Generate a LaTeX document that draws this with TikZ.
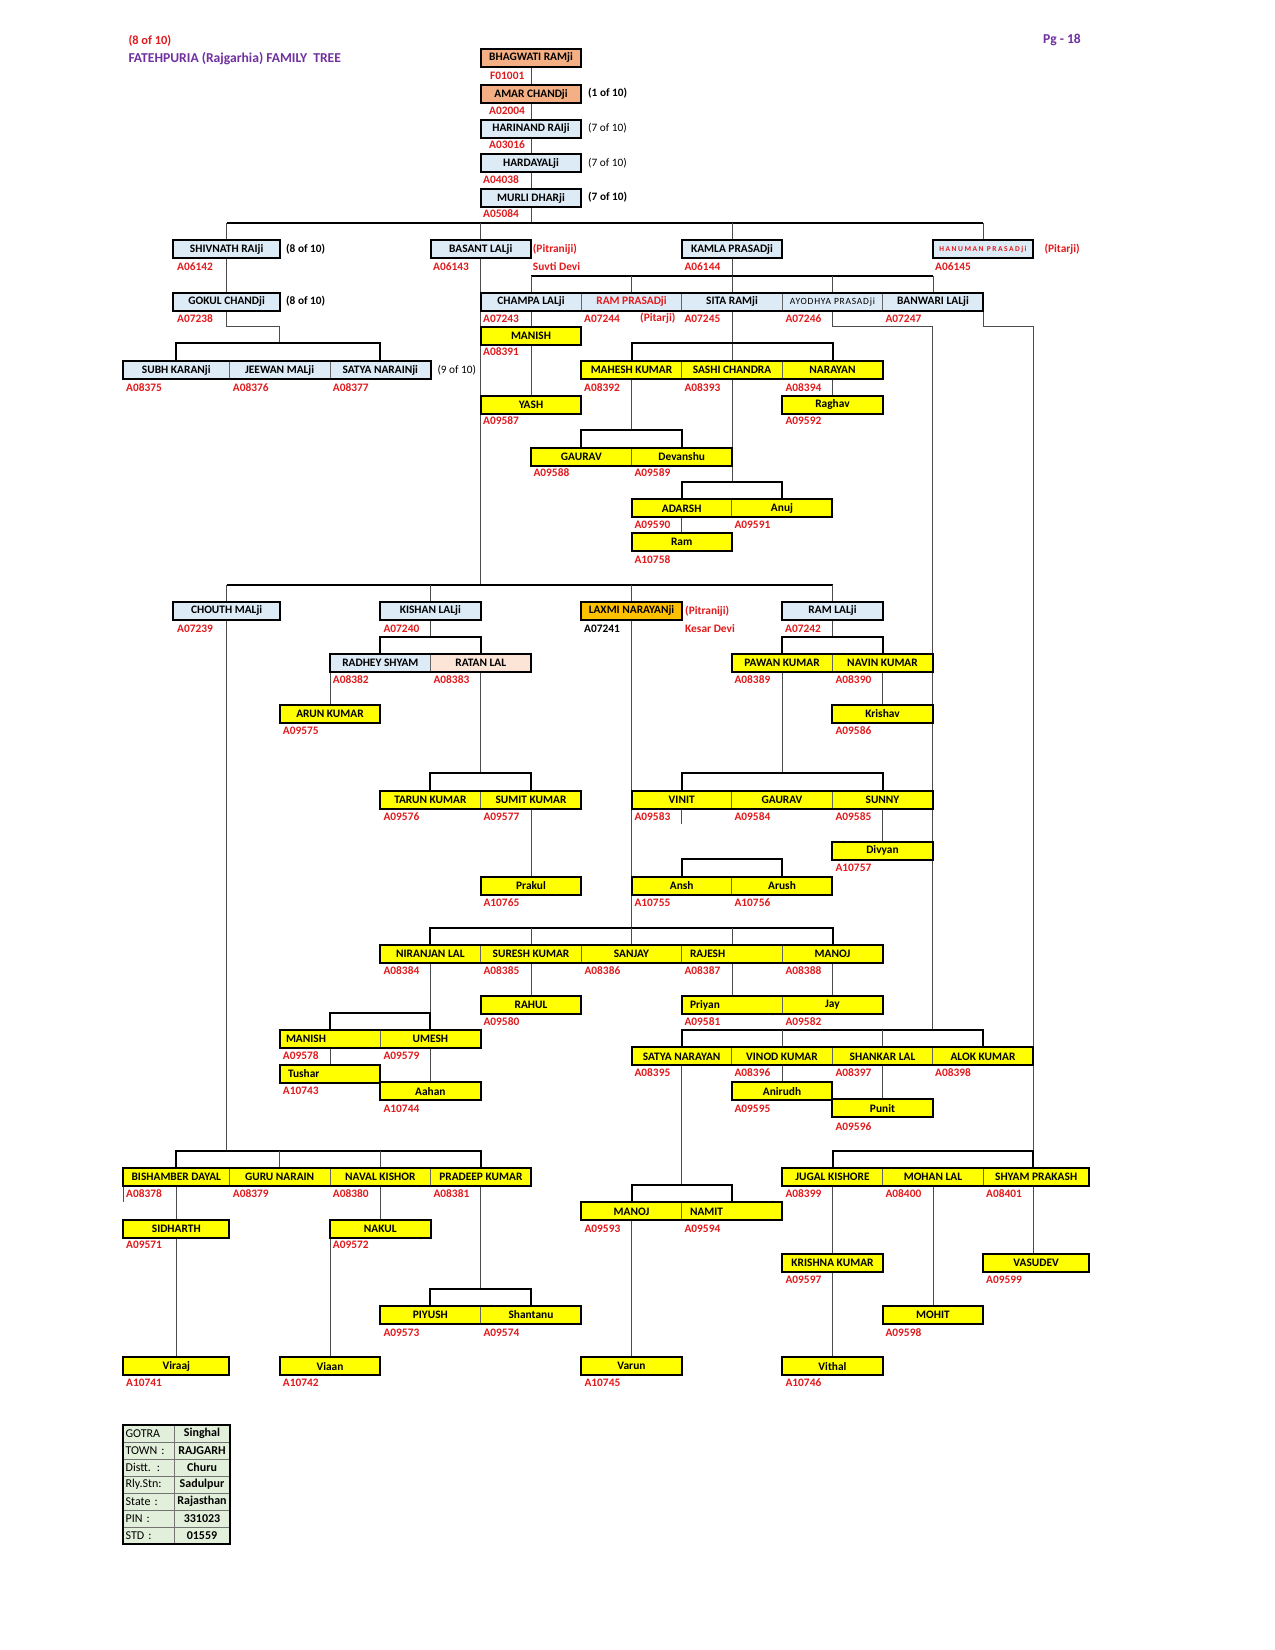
\documentclass[tikz,border=0pt]{standalone}
\usepackage{fontspec}
\setmainfont{Carlito}
\usetikzlibrary{calc}
\definecolor{salmon}{HTML}{F4B084}
\definecolor{lblue}{HTML}{DDEBF7}
\definecolor{peach}{HTML}{FCE4D6}
\definecolor{orng}{HTML}{FFC000}
\definecolor{yel}{HTML}{FFFF00}
\definecolor{lgreen}{HTML}{E2EFDA}
\definecolor{purp}{HTML}{7030A0}
\definecolor{redt}{HTML}{E31A1C}
\pgfdeclarelayer{back}
\pgfdeclarelayer{bg}
\pgfsetlayers{back,bg,main}
\tikzset{
  box/.style={rectangle, draw=black!60, line width=0.7pt, inner sep=0pt, outer sep=0pt,
    minimum height=18pt, font=\bfseries\fontsize{11.4}{12}\selectfont},
  outer/.style={draw=black, line width=2pt},
  conn/.style={draw=black!70, line width=0.9pt},
  brk/.style={draw=black, line width=2pt},
  lab/.style={anchor=west, inner sep=0pt, text=redt, font=\bfseries\fontsize{11.4}{12}\selectfont},
  note/.style={anchor=west, inner sep=0pt, font=\bfseries\fontsize{11.3}{12}\selectfont},
  notel/.style={anchor=west, inner sep=0pt, font=\fontsize{11.3}{12}\selectfont},
  tcell/.style={rectangle, draw=black!55, line width=0.7pt, fill=lgreen, inner sep=0pt, outer sep=0pt,
    minimum height=17pt, font=\fontsize{12}{13}\selectfont},
  lft/.style={text width=84pt, align=left, inner xsep=8pt},
}
\newcommand{\bx}[7][]{\node[box,fill=#6,minimum width={(#4-#3)*1pt},#1] (#2) at ({(#3+#4)/2},{#5+9}) {#7};}
\newcommand{\lb}[3]{\node[lab] (#1) at (#2,#3) {#1};}
\begin{document}
\begin{tikzpicture}[x=1pt,y=-1pt]
\useasboundingbox (0,0) rectangle (1275,1650);
\begin{pgfonlayer}{back}
\fill[white] (0,0) rectangle (1275,1650);
\end{pgfonlayer}

% header
\node[anchor=west, inner sep=0pt, text=redt, font=\bfseries\fontsize{12.4}{13}\selectfont] (hdA) at (128.3,40.7) {(8 of 10)};
\node[anchor=west, inner sep=0pt, text=purp, font=\bfseries\fontsize{13.6}{14}\selectfont] (hdB) at (128.3,58.3) {FATEHPURIA (Rajgarhia) FAMILY\ \ TREE};
\node[anchor=east, inner sep=0pt, text=purp, font=\bfseries\fontsize{13.6}{14}\selectfont] (hdC) at (1081,40) {Pg - 18};

% ---------- boxes ----------
\bx{bhag}{480.7}{581.3}{48.5}{salmon}{BHAGWATI RAMji}
\bx{amar}{480.7}{581.3}{85}{salmon}{AMAR CHANDji}
\bx{hari}{480.7}{581.3}{119.5}{lblue}{HARINAND RAIji}
\bx{hard}{480.7}{581.3}{154}{lblue}{HARDAYALji}
\bx{murli}{480.7}{581.3}{189}{lblue}{MURLI DHARji}

\bx{shiv}{173.3}{280}{240}{lblue}{SHIVNATH RAIji}
\bx{basant}{430.5}{531}{240}{lblue}{BASANT LALji}
\bx{kamla}{681.7}{782.3}{240}{lblue}{KAMLA PRASADji}
\bx{hanu}{932.7}{1033.3}{240}{lblue}{{\fontsize{7.5}{8}\selectfont\addfontfeature{LetterSpace=20}\color{redt}HANUMAN PRASADji}}

\bx{gokul}{173.3}{280}{292.7}{lblue}{GOKUL CHANDji}
\bx{champa}{480.7}{581.3}{292.7}{lblue}{CHAMPA LALji}
\bx{ramp}{581.3}{681.7}{292.7}{lblue}{\color{redt}RAM PRASADji}
\bx{sita}{681.7}{782.3}{292.7}{lblue}{SITA RAMji}
\bx{ayod}{782.3}{882.7}{292.7}{lblue}{{\mdseries\fontsize{9.5}{10}\selectfont\addfontfeature{LetterSpace=8}AYODHYA PRASADji}}
\bx{banw}{882.7}{983.3}{292.7}{lblue}{BANWARI LALji}

\bx{manishA}{480.7}{581.3}{326.7}{yel}{MANISH}

\bx{subh}{123.3}{229.3}{361}{lblue}{SUBH KARANji}
\bx{jeew}{229.3}{330}{361}{lblue}{JEEWAN MALji}
\bx{satyaA}{330}{430.7}{361}{lblue}{SATYA NARAINji}
\bx{mahesh}{581.3}{681.7}{361}{yel}{MAHESH KUMAR}
\bx{sashi}{681.7}{782.3}{361}{yel}{SASHI CHANDRA}
\bx{narayan}{782.3}{882.7}{361}{yel}{NARAYAN}

\bx{yash}{480.7}{581.3}{395.7}{yel}{YASH}
\bx{raghav}{782.3}{882.7}{395.7}{yel}{Raghav}

\bx{gauravA}{531}{631.7}{447.7}{yel}{GAURAV}
\bx{devansh}{631.7}{731.7}{447.7}{yel}{Devanshu}

\bx{adarsh}{631.7}{731.7}{499.3}{yel}{ADARSH}
\bx{anuj}{731.7}{832.3}{499.3}{yel}{Anuj}

\bx{ram}{631.7}{731.7}{533.3}{yel}{Ram}

\bx{chouth}{173.3}{280}{601.7}{lblue}{CHOUTH MALji}
\bx{kishan}{380}{480.7}{601.7}{lblue}{KISHAN LALji}
\bx{laxmi}{581.3}{681.7}{601.7}{orng}{LAXMI NARAYANji}
\bx{raml}{782.3}{882.7}{601.7}{lblue}{RAM LALji}

\bx{radhey}{330}{430.7}{654}{lblue}{RADHEY SHYAM}
\bx{ratan}{430.7}{531}{654}{peach}{RATAN LAL}
\bx{pawan}{731.7}{832.3}{654}{yel}{PAWAN KUMAR}
\bx{navin}{832.3}{932.7}{654}{yel}{NAVIN KUMAR}

\bx{arun}{280}{380}{705}{yel}{ARUN KUMAR}
\bx{krishav}{832.3}{932.7}{705}{yel}{Krishav}

\bx{tarun}{380}{480.7}{790.7}{yel}{TARUN KUMAR}
\bx{sumit}{480.7}{581.3}{790.7}{yel}{SUMIT KUMAR}
\bx{vinit}{631.7}{731.7}{790.7}{yel}{VINIT}
\bx{gauravB}{731.7}{832.3}{790.7}{yel}{GAURAV}
\bx{sunny}{832.3}{932.7}{790.7}{yel}{SUNNY}

\bx{divyan}{832.3}{932.7}{841.7}{yel}{Divyan}

\bx{prakul}{480.7}{581.3}{876.7}{yel}{Prakul}
\bx{ansh}{631.7}{731.7}{876.7}{yel}{Ansh}
\bx{arush}{731.7}{832.3}{876.7}{yel}{Arush}

\bx{niranjan}{380}{480.7}{945}{yel}{NIRANJAN LAL}
\bx{suresh}{480.7}{581.3}{945}{yel}{SURESH KUMAR}
\bx{sanjay}{581.3}{681.7}{945}{yel}{SANJAY}
\bx[lft]{rajesh}{681.7}{782.3}{945}{yel}{RAJESH}
\bx{manojA}{782.3}{882.7}{945}{yel}{MANOJ}

\bx{rahul}{480.7}{581.3}{996}{yel}{RAHUL}
\bx[lft]{priyan}{681.7}{782.3}{996}{yel}{Priyan}
\bx{jay}{782.3}{882.7}{996}{yel}{Jay}

\bx[lft,inner xsep=6pt,text width=88pt]{manishB}{280}{380}{1030}{yel}{MANISH}
\bx{umesh}{380}{480.7}{1030}{yel}{UMESH}

\bx{satyan}{631.7}{731.7}{1047.3}{yel}{SATYA NARAYAN}
\bx{vinod}{731.7}{832.3}{1047.3}{yel}{VINOD KUMAR}
\bx{shankar}{832.3}{932.7}{1047.3}{yel}{SHANKAR LAL}
\bx{alok}{932.7}{1033.3}{1047.3}{yel}{ALOK KUMAR}

\bx[lft]{tushar}{280}{380}{1065}{yel}{Tushar}
\bx{aahan}{380}{480.7}{1082.3}{yel}{Aahan}
\bx{anirudh}{731.7}{832.3}{1082.3}{yel}{Anirudh}
\bx{punit}{832.3}{932.7}{1099.3}{yel}{Punit}

\bx{bisham}{123.3}{229.3}{1167.7}{yel}{BISHAMBER DAYAL}
\bx{guru}{229.3}{330}{1167.7}{yel}{GURU NARAIN}
\bx{naval}{330}{430.7}{1167.7}{yel}{NAVAL KISHOR}
\bx{pradeep}{430.7}{531}{1167.7}{yel}{PRADEEP KUMAR}
\bx{jugal}{782.3}{882.7}{1167.7}{yel}{JUGAL KISHORE}
\bx{mohan}{882.7}{983.3}{1167.7}{yel}{MOHAN LAL}
\bx{shyam}{983.3}{1089}{1167.7}{yel}{SHYAM PRAKASH}

\bx{manojB}{581.3}{681.7}{1202.3}{yel}{MANOJ}
\bx[lft]{namit}{681.7}{782.3}{1202.3}{yel}{NAMIT}

\bx{sidharth}{123.3}{229.3}{1220}{yel}{SIDHARTH}
\bx{nakul}{330}{430.7}{1220}{yel}{NAKUL}

\bx{krishna}{782.3}{882.7}{1254}{yel}{KRISHNA KUMAR}
\bx{vasudev}{983.3}{1089}{1254}{yel}{VASUDEV}

\bx{piyush}{380}{480.7}{1306}{yel}{PIYUSH}
\bx{shantanu}{480.7}{581.3}{1306}{yel}{Shantanu}
\bx{mohit}{882.7}{983.3}{1306}{yel}{MOHIT}

\bx{viraaj}{123.3}{229.3}{1357.3}{yel}{Viraaj}
\bx{viaan}{280}{380}{1357.3}{yel}{Viaan}
\bx{varun}{581.3}{681.7}{1357.3}{yel}{Varun}
\bx{vithal}{782.3}{882.7}{1357.3}{yel}{Vithal}

% thick outlines of groups
\foreach \a/\b in {bhag/bhag, amar/amar, hari/hari, hard/hard, murli/murli, shiv/shiv, basant/basant,
  kamla/kamla, hanu/hanu, gokul/gokul, champa/banw, manishA/manishA, subh/satyaA, mahesh/narayan,
  yash/yash, raghav/raghav, gauravA/devansh, adarsh/anuj, ram/ram, chouth/chouth, kishan/kishan,
  laxmi/laxmi, raml/raml, radhey/ratan, pawan/navin, arun/arun, krishav/krishav, tarun/sumit,
  vinit/sunny, divyan/divyan, prakul/prakul, ansh/arush, niranjan/manojA, rahul/rahul, priyan/jay,
  manishB/umesh, satyan/alok, tushar/tushar, aahan/aahan, anirudh/anirudh, punit/punit,
  bisham/pradeep, jugal/shyam, manojB/namit, sidharth/sidharth, nakul/nakul, krishna/krishna,
  vasudev/vasudev, piyush/shantanu, mohit/mohit, viraaj/viraaj, viaan/viaan, varun/varun, vithal/vithal}
  \draw[outer] (\a.north west) rectangle (\b.south east);

% ---------- side notes ----------
\node[note] (nA) at (588,93.5) {(1 of 10)};
\node[notel] (nB) at (588,128.3) {(7 of 10)};
\node[notel] (nC) at (588,162.8) {(7 of 10)};
\node[note] (nD) at (588,197.5) {(7 of 10)};
\node[note] (nE) at (286,249) {(8 of 10)};
\node[note] (nF) at (286,301.3) {(8 of 10)};
\node[notel] (nG) at (437.3,370) {(9 of 10)};
\node[lab] (pitA) at (532.7,249) {(Pitraniji)};
\node[lab] (suvti) at (532.7,266.3) {Suvti Devi};
\node[lab] (pitB) at (1044.3,249) {(Pitarji)};
\node[lab] (pitC) at (640,318.3) {(Pitarji)};
\node[lab] (pitD) at (685,611) {(Pitraniji)};
\node[lab] (kesar) at (685,628.3) {Kesar Devi};

% ---------- id labels ----------
\lb{F01001}{490}{76}
\lb{A02004}{489}{111}
\lb{A03016}{489}{145}
\lb{A04038}{483}{180}
\lb{A05084}{483}{213.3}
\lb{A06142}{177}{266.3}
\lb{A06143}{433}{266.3}
\lb{A06144}{684.3}{266.3}
\lb{A06145}{935}{266.3}
\lb{A07238}{177}{318.3}
\lb{A07243}{483}{318.3}
\lb{A07244}{584}{318.3}
\lb{A07245}{684.3}{318.3}
\lb{A07246}{785.3}{318.3}
\lb{A07247}{885.3}{318.3}
\lb{A08391}{483}{351.7}
\lb{A08375}{126}{387.3}
\lb{A08376}{232.7}{387.3}
\lb{A08377}{332.7}{387.3}
\lb{A08392}{584}{387.3}
\lb{A08393}{684.3}{387.3}
\lb{A08394}{785.3}{387.3}
\lb{A09587}{483}{421}
\lb{A09592}{785.3}{421}
\lb{A09588}{533.3}{472.7}
\lb{A09589}{634.3}{472.7}
\lb{A09590}{634.3}{525}
\lb{A09591}{734.3}{525}
\lb{A10758}{634.3}{560}
\lb{A07239}{177}{628.3}
\lb{A07240}{383.3}{628.3}
\node[lab,text=black] (A07241) at (584,628.3) {A07241};
\lb{A07242}{785}{628.3}
\lb{A08382}{332.7}{680}
\lb{A08383}{433.3}{680}
\lb{A08389}{734.3}{680}
\lb{A08390}{835.3}{680}
\lb{A09575}{282.7}{731}
\lb{A09586}{835.3}{731}
\lb{A09576}{383.3}{816.7}
\lb{A09577}{483.3}{816.7}
\lb{A09583}{634.3}{816.7}
\lb{A09584}{734.3}{816.7}
\lb{A09585}{835.3}{816.7}
\lb{A10757}{835.3}{867.3}
\lb{A10765}{483.3}{902.3}
\lb{A10755}{634.3}{902.3}
\lb{A10756}{734.3}{902.3}
\lb{A08384}{383.3}{971}
\lb{A08385}{483.3}{971}
\lb{A08386}{584.3}{971}
\lb{A08387}{684.3}{971}
\lb{A08388}{785.3}{971}
\lb{A09580}{483.3}{1021.7}
\lb{A09581}{684.3}{1021.7}
\lb{A09582}{785.3}{1021.7}
\lb{A09578}{282.7}{1056}
\lb{A09579}{383.3}{1056}
\lb{A08395}{634.3}{1072.7}
\lb{A08396}{734.3}{1072.7}
\lb{A08397}{835.3}{1072.7}
\lb{A08398}{935}{1072.7}
\lb{A10743}{282.7}{1091}
\lb{A10744}{383.3}{1108.3}
\lb{A09595}{734.3}{1108.3}
\lb{A09596}{835.3}{1126.7}
\lb{A08378}{126}{1194}
\lb{A08379}{232.7}{1194}
\lb{A08380}{332.7}{1194}
\lb{A08381}{433.3}{1194}
\lb{A08399}{785.3}{1194}
\lb{A08400}{885.3}{1194}
\lb{A08401}{986}{1194}
\lb{A09593}{584.3}{1228.3}
\lb{A09594}{684.3}{1228.3}
\lb{A09571}{126}{1245}
\lb{A09572}{332.7}{1245}
\lb{A09597}{785.3}{1279.3}
\lb{A09599}{986}{1279.3}
\lb{A09573}{383.3}{1332.3}
\lb{A09574}{483.3}{1332.3}
\lb{A09598}{885.3}{1332.3}
\lb{A10741}{126}{1382.7}
\lb{A10742}{282.7}{1382.7}
\lb{A10745}{584.3}{1382.7}
\lb{A10746}{785.3}{1382.7}

% ---------- info table ----------
\foreach \i/\a/\b in {0/GOTRA/Singhal, 1/TOWN :/RAJGARH, 2/Distt. :/Churu, 3/Rly.Stn:/Sadulpur,
  4/State :/Rajasthan, 5/PIN :/331023, 6/STD :/01559} {
  \node[tcell, minimum width=50.7pt, text width=46pt, align=left, inner xsep=2.35pt] (ta\i) at (148.65,{1433.5+17*\i}) {\a};
  \node[tcell, minimum width=56pt, font=\bfseries\fontsize{12}{13}\selectfont] (tb\i) at (202,{1433.5+17*\i}) {\b};
}
\draw[outer] (ta0.north west) rectangle (tb6.south east);

% ---------- connectors ----------
\begin{pgfonlayer}{bg}
\coordinate (yTop) at (0,223.3);
\coordinate (yKam) at (0,275.7);
\coordinate (yGk) at (0,326.7);
\coordinate (ySubh) at (0,343.3);
\coordinate (yGau) at (0,430);
\coordinate (yAda) at (0,481.7);
\coordinate (yBas) at (0,585);
\coordinate (yKis) at (0,636.7);
\coordinate (yTar) at (0,773.3);
\coordinate (yAns) at (0,859);
\coordinate (yNir) at (0,927.7);
\coordinate (yMan) at (0,1013.3);
\coordinate (ySat) at (0,1030);
\coordinate (yBis) at (0,1150.7);
\coordinate (yMN) at (0,1185);
\coordinate (yPiy) at (0,1289);
\coordinate (gkx) at (279.7,0);
\coordinate (ayx) at (932.7,0);
\coordinate (bwx) at (1033.3,0);
\coordinate (vstub) at (681.7,824.3);
\coordinate (bstub) at (123.3,1202.3);

% top chain
\draw[conn] (bhag.south) -- (amar.north);
\draw[conn] (amar.south) -- (hari.north);
\draw[conn] (hari.south) -- (hard.north);
\draw[conn] (hard.south) -- (murli.north);
\draw[conn] (murli.south) -- (murli.south |- yTop);
\draw[brk] (shiv.north |- yTop) -- (hanu.north |- yTop);
\foreach \n in {shiv,basant,kamla,hanu} \draw[conn] (\n.north) -- (\n.north |- yTop);

% Shivnath line
\draw[conn] (shiv.south) -- (gokul.north);
\draw[conn] (gokul.south) |- (gkx |- yGk) -- (gkx |- ySubh);
\draw[brk] (subh.north) |- (satyaA.north |- ySubh) -- (satyaA.north);

% Kamla line
\draw[conn] (kamla.south) -- (kamla.south |- yKam);
\draw[brk] (champa.north |- yKam) -- (banw.north |- yKam);
\foreach \n in {champa,ramp,sita,ayod,banw} \draw[conn] (\n.north) -- (\n.north |- yKam);
\draw[conn] (champa.south) -- (manishA.north);
\draw[conn] (manishA.south) -- (yash.north);
\draw[conn] (sita.south) -- (sashi.north);
\draw[brk] (mahesh.north) |- (narayan.north |- ySubh) -- (narayan.north);
\draw[conn] (narayan.south) -- (raghav.north);
\draw[conn] (mahesh.south) -- (mahesh.south |- yGau);
\draw[brk] (gauravA.north) |- (devansh.north |- yGau) -- (devansh.north);
\draw[conn] (sashi.south) -- (sashi.south |- yAda);
\draw[brk] (adarsh.north) |- (anuj.north |- yAda) -- (anuj.north);
\draw[conn] (adarsh.south) -- (ram.north);
\draw[conn] (ayod.south) |- (ayx |- yGk) -- (ayx |- ySat);
\draw[conn] (banw.south east) |- (bwx |- yGk) -- (bwx |- yBis);
\draw[brk] (satyan.north) |- (alok.north |- ySat) -- (alok.north);
\foreach \n in {vinod,shankar} \draw[conn] (\n.north) -- (\n.north |- ySat);
\draw[conn] (vinod.south) -- (anirudh.north);
\draw[conn] (shankar.south) -- (punit.north);
\draw[conn] (satyan.south) -- (satyan.south |- yMN);
\draw[brk] (manojB.north) |- (namit.north |- yMN) -- (namit.north);
\draw[conn] (manojB.south) -- (varun.north);
\draw[brk] (jugal.north) |- (bwx |- yBis) -- (bwx |- shyam.north);
\draw[conn] (jugal.south) -- (krishna.north);
\draw[conn] (krishna.south) -- (vithal.north);
\draw[conn] (mohan.south) -- (mohit.north);
\draw[conn] (bwx |- shyam.south) -- (bwx |- vasudev.north);

% Basant line
\draw[conn] (basant.south) -- (basant.south |- yBas);
\draw[brk] (chouth.north |- yBas) -- (raml.north |- yBas);
\foreach \n in {chouth,kishan,laxmi,raml} \draw[conn] (\n.north) -- (\n.north |- yBas);
\draw[conn] (kishan.south) -- (kishan.south |- yKis);
\draw[brk] (radhey.north) |- (ratan.north |- yKis) -- (ratan.north);
\draw[conn] (radhey.south west) -- (arun.north);
\draw[conn] (ratan.south) -- (ratan.south |- yTar);
\draw[brk] (tarun.north) |- (sumit.north |- yTar) -- (sumit.north);
\draw[conn] (sumit.south) -- (prakul.north);
\draw[conn] (raml.south) -- (raml.south |- yKis);
\draw[brk] (pawan.north) |- (navin.north |- yKis) -- (navin.north);
\draw[conn] (navin.south) -- (krishav.north);
\draw[conn] (pawan.south) -- (pawan.south |- yTar);
\draw[brk] (vinit.north) |- (sunny.north |- yTar) -- (sunny.north);
\draw[conn] (vinit.south) -- (vstub);
\draw[conn] (sunny.south) -- (divyan.north);
\draw[brk] (ansh.north) |- (arush.north |- yAns) -- (arush.north);
\draw[conn] (laxmi.south) -- (laxmi.south |- yNir);
\draw[brk] (niranjan.north) |- (manojA.north |- yNir) -- (manojA.north);
\foreach \n in {suresh,sanjay,rajesh} \draw[conn] (\n.north) -- (\n.north |- yNir);
\draw[conn] (suresh.south) -- (rahul.north);
\draw[conn] (rajesh.south) -- (priyan.north);
\draw[conn] (manojA.south) -- (jay.north);
\draw[conn] (niranjan.south) -- (niranjan.south |- yMan);
\draw[brk] (manishB.north) |- (umesh.north |- yMan) -- (umesh.north);
\draw[conn] (manishB.south) -- (tushar.north);
\draw[conn] (umesh.south) -- (aahan.north);
\draw[conn] (chouth.south) -- (chouth.south |- yBis);
\draw[brk] (bisham.north) |- (pradeep.north |- yBis) -- (pradeep.north);
\foreach \n in {guru,naval} \draw[conn] (\n.north) -- (\n.north |- yBis);
\draw[conn] (bisham.south west) -- (bstub);
\draw[conn] (bisham.south) -- (sidharth.north);
\draw[conn] (sidharth.south) -- (viraaj.north);
\draw[conn] (naval.south) -- (nakul.north);
\draw[conn] (nakul.south west) -- (viaan.north);
\draw[conn] (pradeep.south) -- (pradeep.south |- yPiy);
\draw[brk] (piyush.north) |- (shantanu.north |- yPiy) -- (shantanu.north);
\end{pgfonlayer}
\end{tikzpicture}
\end{document}
